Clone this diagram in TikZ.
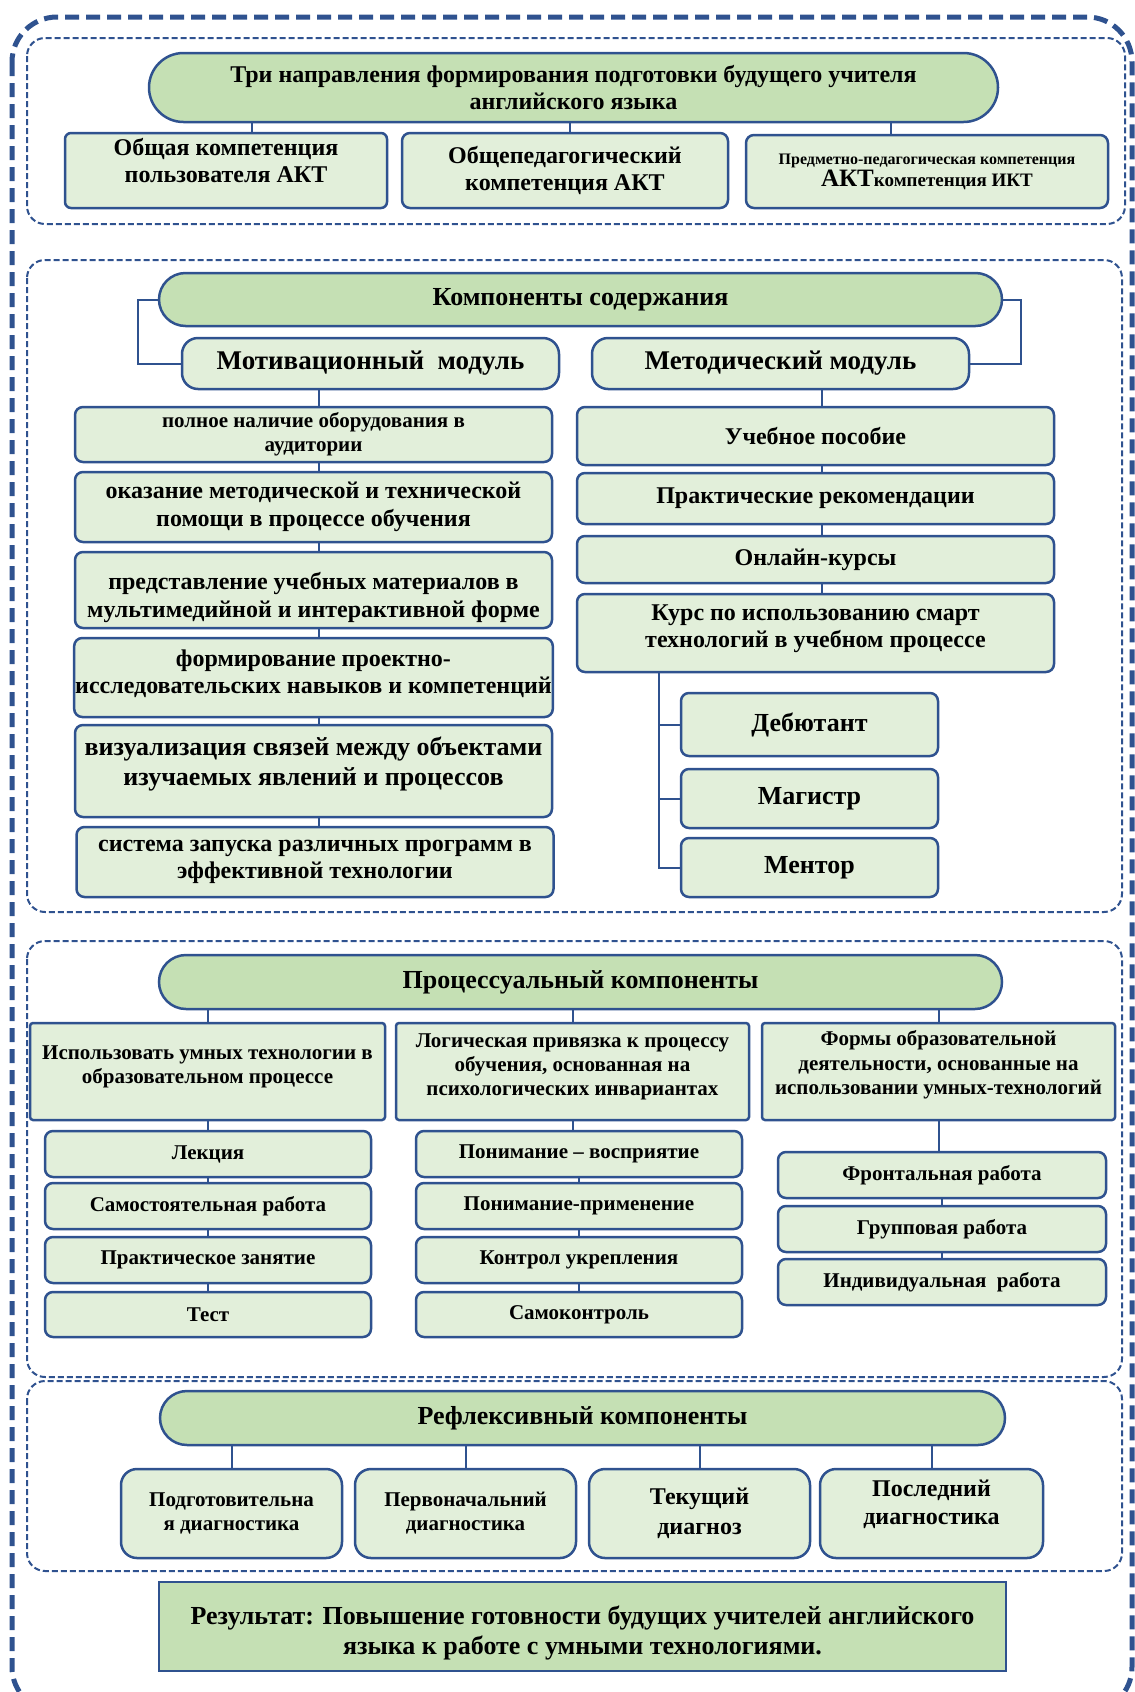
\documentclass[tikz,border=0pt]{standalone}
\usepackage{fontspec}
\setmainfont{Liberation Serif}
\usetikzlibrary{shapes.misc}
\definecolor{edgeblue}{RGB}{47,82,143}
\definecolor{lightg}{RGB}{226,239,218}
\definecolor{pillg}{RGB}{197,224,180}
\newcommand{\lift}[1]{\rule[-#1]{0pt}{#1}}
\newcommand{\drop}[1]{\rule{0pt}{#1}}
\tikzset{
pillnode/.style = {rounded rectangle, draw=edgeblue, line width=2.5pt, fill=pillg, align=center, inner sep=1pt},
}
\tikzset{
rectnode/.style = {rectangle, rounded corners=#1, draw=edgeblue, line width=2.5pt, fill=lightg, align=center, inner sep=1pt},
rectnode/.default = 8pt % corner radius
}
\tikzset{fs/.style={font=\bfseries\linespread{1.15}\fontsize{#1}{#1}\selectfont}}
\tikzset{sz/.style args={#1x#2}{minimum width=#1pt, minimum height=#2pt}}
\tikzset{conn/.style={draw=edgeblue, line width=2pt}}
\tikzset{zone/.style={draw=edgeblue, line width=2pt, dash pattern=on 6pt off 3pt, rounded corners=18pt}}
\tikzset{outerframe/.style={draw=edgeblue, line width=5pt, dash pattern=on 14pt off 7pt, rounded corners=45pt}}

\begin{document}
\begin{tikzpicture}[x=1pt, y=-1pt]
    \useasboundingbox (0,0) rectangle (1135,1692);
    \draw[outerframe] (12,17) rectangle (1132,1712);
    % three directions
    \draw[zone] (27,38) rectangle (1125,224);
    \node[pillnode, sz=851x69, fs=24] (three) at (573.5,87.5) {Три направления формирования подготовки будущего учителя\\английского языка};
    \node[rectnode=6pt, sz=322x75, fs=24] (gen) at (226,170.5) {Общая компетенция\\пользователя АКТ\lift{20pt}};
    \node[rectnode, sz=326x75, fs=24] (ped) at (565,170.5) {Общепедагогический\\компетенция АКТ};
    \node[rectnode, sz=362x73, fs=19] (subj) at (927,171.5) {{\fontsize{16}{16}\selectfont Предметно-педагогическая компетенция}\\{\fontsize{25}{25}\selectfont АКТ}компетенция ИКТ};
    \draw[conn] ([xshift=26pt]gen.north) -- ([xshift=26pt]gen.north |- three.south);
    \draw[conn] ([xshift=5pt]ped.north) -- ([xshift=5pt]ped.north |- three.south);
    \draw[conn] ([xshift=-36pt]subj.north) -- ([xshift=-36pt]subj.north |- three.south);

    % content components
    \draw[zone] (27,260) rectangle (1122,912);
    \node[pillnode, sz=845x53, fs=26] (cont) at (580.5,299.5) {Компоненты содержания};
    \node[rectnode=16pt, sz=377x51, fs=27] (motiv) at (370.5,363.5) {Мотивационный\ \ модуль};
    \node[rectnode=16pt, sz=377x51, fs=27] (meth) at (780.5,363.5) {Методический модуль};
    \draw[conn] (cont.west) -- ++(-20,0) |- (motiv.west);
    \draw[conn] (cont.east) -- ++(18,0) |- (meth.east);
    \coordinate (lc) at (319,0);
    \coordinate (rc) at (822,0);
    \coordinate (tc) at (659,0);
    \node[rectnode, sz=477x55, fs=21] (m1) at (313.5,434.5) {полное наличие оборудования в\\аудитории};
    \node[rectnode, sz=477x70, fs=24] (m2) at (313.5,507) {оказание методической и технической\\помощи в процессе обучения};
    \node[rectnode, sz=477x76, fs=24] (m3) at (313.5,590) {\drop{32pt}представление учебных материалов в\\мультимедийной и интерактивной форме};
    \node[rectnode, sz=477x79, fs=24] (m4) at (313.5,677.5) {формирование проектно-\\исследовательских навыков и компетенций\lift{12pt}};
    \node[rectnode, sz=477x92, fs=26] (m5) at (313.5,771) {визуализация связей между объектами\\изучаемых явлений и процессов\lift{20pt}};
    \node[rectnode, sz=477x70, fs=24] (m6) at (315,862) {система запуска различных программ в\\эффективной технологии};
    \draw[conn] (motiv.south -| lc) -- (m1.north -| lc) (m1.south -| lc) -- (m2.north -| lc)
        (m2.south -| lc) -- (m3.north -| lc) (m3.south -| lc) -- (m4.north -| lc)
        (m4.south -| lc) -- (m5.north -| lc) (m5.south -| lc) -- (m6.north -| lc);
    \node[rectnode, sz=477x58, fs=24] (cr1) at (815.5,436) {Учебное пособие};
    \node[rectnode, sz=477x51, fs=24] (cr2) at (815.5,498.5) {Практические рекомендации};
    \node[rectnode, sz=477x47, fs=24] (cr3) at (815.5,559.5) {Онлайн-курсы};
    \node[rectnode, sz=477x78, fs=24] (cr4) at (815.5,633) {Курс по использованию смарт\\технологий в учебном процессе\lift{14pt}};
    \draw[conn] (meth.south -| rc) -- (cr1.north -| rc) (cr1.south -| rc) -- (cr2.north -| rc)
        (cr2.south -| rc) -- (cr3.north -| rc) (cr3.south -| rc) -- (cr4.north -| rc);
    \node[rectnode, sz=257x63, fs=26] (deb) at (809.5,724.5) {Дебютант};
    \node[rectnode, sz=257x59, fs=26] (mag) at (809.5,798.5) {Магистр};
    \node[rectnode, sz=257x59, fs=26] (ment) at (809.5,867.5) {Ментор};
    \draw[conn] (cr4.south -| tc) |- (ment.west) (tc |- deb.west) -- (deb.west) (tc |- mag.west) -- (mag.west);

    % procedural components
    \draw[zone] (27,941) rectangle (1122,1377);
    \node[pillnode, sz=845x54, fs=26] (proc) at (580.5,982) {Процессуальный компоненты};
    \node[rectnode=3pt, sz=355x97, fs=21] (use) at (207.5,1071.5) {Использовать умных технологии в\\образовательном процессе\lift{14pt}};
    \node[rectnode=3pt, sz=353x97, fs=21] (logic) at (572.5,1071.5) {Логическая привязка к процессу\\обучения, основанная на\\психологических инвариантах\lift{14pt}};
    \node[rectnode=3pt, sz=353x97, fs=21] (forms) at (938.5,1071.5) {Формы образовательной\\деятельности, основанные на\\использовании умных-технологий\lift{18pt}};
    \draw[conn] (use.north) -- (use.north |- proc.south) (logic.north) -- (logic.north |- proc.south)
        (forms.north) -- (forms.north |- proc.south);
    \node[rectnode, sz=326x46, fs=21] (lec) at (208,1154) {Лекция};
    \node[rectnode, sz=326x46, fs=21] (selfw) at (208,1206) {Самостоятельная работа};
    \node[rectnode, sz=326x46, fs=21] (prac) at (208,1260) {Практическое занятие};
    \node[rectnode, sz=326x45, fs=21] (test) at (208,1314.5) {Тест};
    \draw[conn] (use.south) -- (use.south |- lec.north) (lec.south) -- (selfw.north)
        (selfw.south) -- (prac.north) (prac.south) -- (test.north);
    \node[rectnode, sz=326x46, fs=21] (und) at (579,1154) {Понимание – восприятие};
    \node[rectnode, sz=326x46, fs=21] (appl) at (579,1206) {Понимание-применение};
    \node[rectnode, sz=326x46, fs=21] (ctrl) at (579,1260) {Контрол укрепления};
    \node[rectnode, sz=326x45, fs=21] (selfc) at (579,1314.5) {Самоконтроль};
    \draw[conn] (logic.south) -- (logic.south |- und.north) (und.south) -- (appl.north)
        (appl.south) -- (ctrl.north) (ctrl.south) -- (selfc.north);
    \node[rectnode, sz=328x46, fs=21] (front) at (942,1175) {Фронтальная работа};
    \node[rectnode, sz=328x46, fs=21] (group) at (942,1229) {Групповая работа};
    \node[rectnode, sz=328x46, fs=21] (indiv) at (942,1282) {Индивидуальная\ \ работа};
    \draw[conn] (forms.south) -- (forms.south |- front.north) (front.south) -- (group.north)
        (group.south) -- (indiv.north);

    % reflexive components
    \draw[zone] (27,1381) rectangle (1122,1571);
    \node[pillnode, sz=847x54, fs=26] (refl) at (582.5,1418) {Рефлексивный компоненты};
    \node[rectnode=16pt, sz=221x89, fs=21] (prep) at (231.5,1513.5) {Подготовительна\\я диагностика};
    \node[rectnode=16pt, sz=221x89, fs=21] (init) at (465.5,1513.5) {Первоначальний\\диагностика};
    \node[rectnode=16pt, sz=221x89, fs=24] (cur) at (699.5,1513.5) {Текущий\\[2pt]диагноз};
    \node[rectnode=16pt, sz=223x89, fs=24] (last) at (931.5,1513.5) {Последний\\диагностика\lift{22pt}};
    \draw[conn] (prep.north) -- (prep.north |- refl.south) (init.north) -- (init.north |- refl.south)
        (cur.north) -- (cur.north |- refl.south) (last.north) -- (last.north |- refl.south);

    \node[rectnode=0pt, fill=pillg, sz=847x89, fs=26] (res) at (582.5,1626.5) {\drop{32pt}Результат: Повышение готовности будущих учителей английского\\языка к работе с умными технологиями.};
\end{tikzpicture}
\end{document}
